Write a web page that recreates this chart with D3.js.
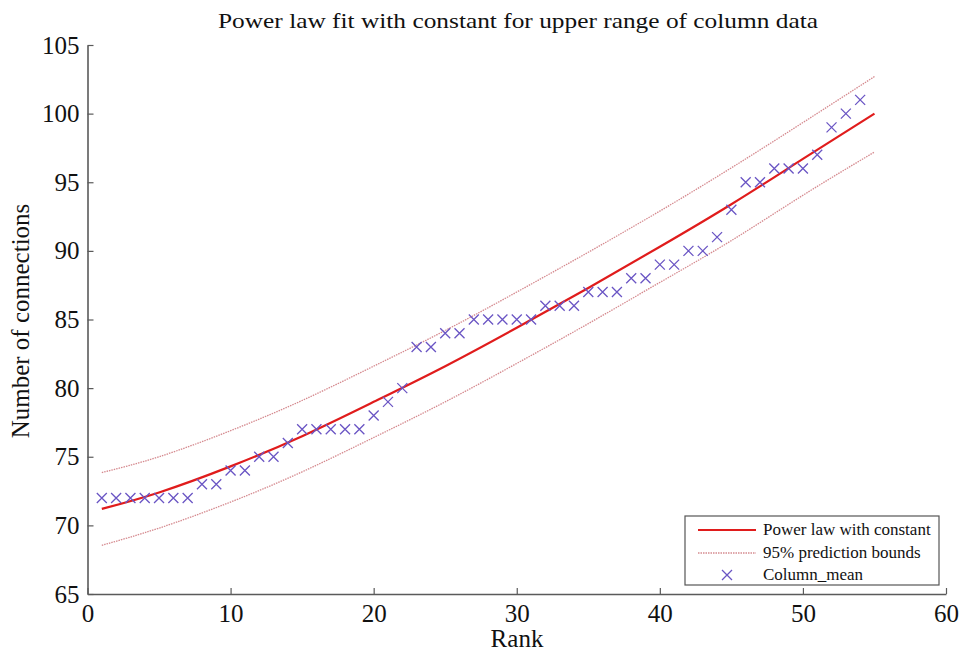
<!DOCTYPE html>
<html><head><meta charset="utf-8">
<script src="https://cdn.jsdelivr.net/npm/d3@7"></script>
<style>body{margin:0;background:#fff}svg{display:block}svg text{font-family:"Liberation Serif","Times New Roman",Times,serif !important;fill:#111}</style>
</head><body><div id="chart"></div>
<script>
// Observed data (rank vs column mean)
const ranks = d3.range(1, 55);
const columnMean = [72,72,72,72,72,72,72,73,73,74,74,75,75,76,77,77,77,77,77,78,79,80,83,83,84,84,85,85,85,85,85,86,86,86,87,87,87,88,88,89,89,90,90,91,93,95,95,96,96,96,97,99,100,101];
// Fitted curve and prediction bounds
const fitX = [1,5,10,15,20,25,30,35,40,45,50,55];
const fitY = [71.2,72.4,74.3,76.5,79.0,81.6,84.4,87.3,90.3,93.4,96.7,100.0];
const upperY = [73.85,75.0,76.9,79.1,81.6,84.2,87.0,89.9,92.9,96.05,99.35,102.7];
const lowerY = [68.55,69.8,71.7,73.9,76.4,79.0,81.8,84.7,87.7,90.75,94.05,97.2];
const xTicks = [0,10,20,30,40,50,60];
const yTicks = [65,70,75,80,85,90,95,100,105];
const legendLabels = ["Power law with constant","95% prediction bounds","Column_mean"];

const FONT = '"Liberation Serif","Times New Roman",Times,serif';
const W = 963, H = 657;
const m = {left: 87.5, right: 17, top: 45, bottom: 63};
const svg = d3.select("#chart").append("svg").attr("width", W).attr("height", H)
  .attr("font-family", FONT);
const x = d3.scaleLinear().domain([0,60]).range([m.left, W - m.right]);
const y = d3.scaleLinear().domain([65,105]).range([H - m.bottom, m.top]);

const axisColor = "#5a5a5a";
const gx = svg.append("g").attr("transform", `translate(0,${y(65)})`)
  .call(d3.axisBottom(x).tickValues(xTicks).tickSizeInner(-6).tickSizeOuter(0).tickPadding(10));
const gy = svg.append("g").attr("transform", `translate(${x(0)},0)`)
  .call(d3.axisLeft(y).tickValues(yTicks).tickSizeInner(-6).tickSizeOuter(0).tickPadding(8));
[gx, gy].forEach(g => {
  g.attr("font-family", FONT).attr("font-size", 25);
  g.select(".domain").attr("stroke", axisColor).attr("stroke-width", 1.6);
  g.selectAll(".tick line").attr("stroke", axisColor).attr("stroke-width", 1.2);
  g.selectAll(".tick text").style("font-family", FONT).style("font-size", "25px").attr("fill", "#111");
});

const line = d3.line().x((d,i) => x(fitX[i])).y(d => y(d)).curve(d3.curveNatural);
svg.append("path").attr("d", line(upperY)).attr("fill","none").attr("stroke","#d58a8f").attr("stroke-width",1.3).attr("stroke-dasharray","1.5,1");
svg.append("path").attr("d", line(lowerY)).attr("fill","none").attr("stroke","#d58a8f").attr("stroke-width",1.3).attr("stroke-dasharray","1.5,1");
svg.append("path").attr("d", line(fitY)).attr("fill","none").attr("stroke","#e01c1c").attr("stroke-width",2.2);

const s = 5;
const xMark = (cx, cy) => `M${cx-s},${cy-s}L${cx+s},${cy+s}M${cx-s},${cy+s}L${cx+s},${cy-s}`;
svg.append("g").selectAll("path").data(columnMean).join("path")
  .attr("d", (d,i) => xMark(x(ranks[i]), y(d)))
  .attr("stroke", "#6a55c4").attr("stroke-width", 1.3).attr("fill","none");

svg.append("text").attr("x", 518).attr("y", 28).attr("text-anchor","middle").style("font-size", "22px")
  .attr("textLength", 600).attr("lengthAdjust", "spacingAndGlyphs")
  .text("Power law fit with constant for upper range of column data");
svg.append("text").attr("x", 517).attr("y", 647).attr("text-anchor","middle").style("font-size", "25px").text("Rank");
svg.append("text").attr("transform", "translate(29,321) rotate(-90)").attr("text-anchor","middle").style("font-size", "25px")
  .text("Number of connections");

// Legend
const lg = svg.append("g");
lg.append("rect").attr("x", 685).attr("y", 516).attr("width", 254).attr("height", 69)
  .attr("fill","#fff").attr("stroke","#555").attr("stroke-width",1.2);
const rowsY = [530, 553, 575];
lg.append("line").attr("x1",698).attr("x2",756).attr("y1",rowsY[0]).attr("y2",rowsY[0]).attr("stroke","#e01c1c").attr("stroke-width",2.2);
lg.append("line").attr("x1",698).attr("x2",756).attr("y1",rowsY[1]).attr("y2",rowsY[1]).attr("stroke","#d58a8f").attr("stroke-width",1.3).attr("stroke-dasharray","1.5,1");
lg.append("path").attr("d", xMark(727, rowsY[2])).attr("stroke","#6a55c4").attr("stroke-width",1.3);
lg.selectAll("text").data(legendLabels).join("text")
  .attr("x", 763).attr("y", (d,i) => rowsY[i] + 5).style("font-size", "17px").text(d => d);
</script></body></html>
